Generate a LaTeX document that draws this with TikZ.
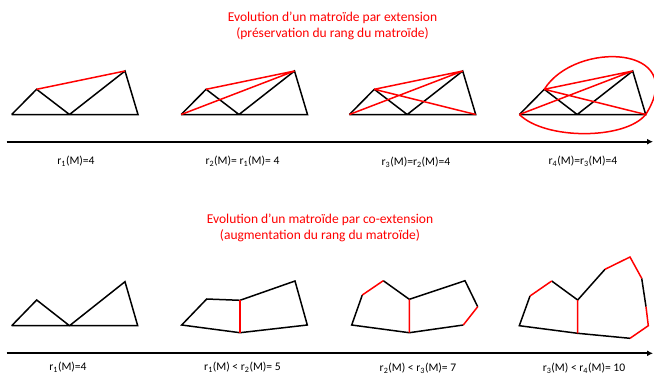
\documentclass[tikz,border=0pt]{standalone}
\usepackage{fontspec}
\setmainfont{Carlito}
\usetikzlibrary{arrows.meta}

\tikzset{
  edge/.style={line width=1.5pt, black},
  redge/.style={line width=1.5pt, red},
  axis/.style={line width=2.2pt, -{Latex[length=6pt,width=6pt]}},
  titre/.style={text=red, font=\fontsize{13.5}{16}\selectfont, align=center},
  rang/.style={font=\fontsize{11.6}{13}\selectfont}
}

\begin{document}
\begin{tikzpicture}[x=1pt,y=-1pt]
\useasboundingbox (0,0) rectangle (654,381);

% Titres
\node[titre] (titre1) at (332.5,26) {Evolution d’un matroïde par extension\\(préservation du rang du matroïde)};
\node[titre] (titre2) at (320,228) {Evolution d’un matroïde par co-extension\\(augmentation du rang du matroïde)};

% Extension : sommets
\foreach \g/\dx in {1/0,2/169.5,3/337.7,4/507.7} {
    \coordinate (L\g) at (11.7+\dx,114.5);
    \coordinate (P\g) at (36.6+\dx,89.3);
    \coordinate (M\g) at (69.5+\dx,114.5);
    \coordinate (T\g) at (125+\dx,71);
    \coordinate (R\g) at (138+\dx,114.5);
    \draw[edge] (L\g) -- (M\g) -- (R\g) -- (T\g) -- (M\g) -- (P\g) -- (L\g);
}

% Extension : aretes ajoutees
\draw[redge] (P1) -- (T1);
\draw[redge] (P2) -- (T2) (L2) -- (T2);
\draw[redge] (P3) -- (T3) (L3) -- (T3) (P3) -- (R3);
\draw[redge] (P4) -- (T4) (L4) -- (T4) (P4) -- (R4);
\draw[redge] (P4) .. controls (575,40) and (690,45) .. (R4);
\draw[redge] (L4) .. controls (545,140) and (625,140) .. (R4);

% Axes
\coordinate (ax1s) at (6.7,141.7);
\coordinate (ax1e) at (653,141.7);
\coordinate (ax2s) at (6.7,353.3);
\coordinate (ax2e) at (653,353.3);
\draw[axis] (ax1s) -- (ax1e);
\draw[axis] (ax2s) -- (ax2e);

% Rangs (extension)
\node[rang] (r1) at (76,161) {r\textsubscript{1}(M)=4};
\node[rang] (r2) at (242.5,161) {r\textsubscript{2}(M)= r\textsubscript{1}(M)= 4};
\node[rang] (r3) at (416,162) {r\textsubscript{3}(M)=r\textsubscript{2}(M)=4};
\node[rang] (r4) at (583,161) {r\textsubscript{4}(M)=r\textsubscript{3}(M)=4};

% Co-extension 1
\coordinate (a1) at (11.7,325.7);
\coordinate (a2) at (36.7,300);
\coordinate (a3) at (69.5,325.7);
\coordinate (a4) at (125,281.7);
\coordinate (a5) at (137.7,325.7);
\draw[edge] (a1) -- (a2) -- (a3) -- (a4) -- (a5) -- (a1);

% Co-extension 2
\coordinate (b1) at (181.7,325);
\coordinate (b2) at (206.7,299);
\coordinate (b3) at (240,300.3);
\coordinate (b4) at (295,281);
\coordinate (b5) at (307.3,325);
\coordinate (b6) at (240,332.7);
\draw[edge] (b1) -- (b2) -- (b3) -- (b4) -- (b5) -- (b6) -- cycle;
\draw[redge] (b3) -- (b6);

% Co-extension 3
\coordinate (c1) at (351.7,325);
\coordinate (c2) at (362.3,295);
\coordinate (c3) at (383.3,280.7);
\coordinate (c4) at (409.3,299.3);
\coordinate (c5) at (465,280.7);
\coordinate (c6) at (477.7,306.7);
\coordinate (c7) at (463.3,325);
\coordinate (c8) at (409.3,332.7);
\draw[edge] (c2) -- (c1) -- (c8) -- (c7);
\draw[edge] (c3) -- (c4) -- (c5) -- (c6);
\draw[redge] (c2) -- (c3) (c6) -- (c7) (c4) -- (c8);

% Co-extension 4
\coordinate (d1) at (519.3,325.7);
\coordinate (d2) at (530,296);
\coordinate (d3) at (551.7,281);
\coordinate (d4) at (577.7,300);
\coordinate (d5) at (605,269.3);
\coordinate (d6) at (630,257);
\coordinate (d7) at (641.7,278.3);
\coordinate (d8) at (646,306.7);
\coordinate (d9) at (648.3,325.7);
\coordinate (d10) at (630,338.3);
\coordinate (d11) at (577.7,333.3);
\draw[edge] (d2) -- (d1) -- (d11) -- (d10);
\draw[edge] (d3) -- (d4) -- (d5);
\draw[edge] (d7) -- (d8);
\draw[redge] (d2) -- (d3) (d5) -- (d6) -- (d7) (d8) -- (d9) -- (d10) (d4) -- (d11);

% Rangs (co-extension)
\node[rang] (s1) at (68,367) {r\textsubscript{1}(M)=4};
\node[rang] (s2) at (242.5,367) {r\textsubscript{1}(M) < r\textsubscript{2}(M)= 5};
\node[rang] (s3) at (418,368) {r\textsubscript{2}(M) < r\textsubscript{3}(M)= 7};
\node[rang] (s4) at (584,368) {r\textsubscript{3}(M) < r\textsubscript{4}(M)= 10};

\end{tikzpicture}
\end{document}
